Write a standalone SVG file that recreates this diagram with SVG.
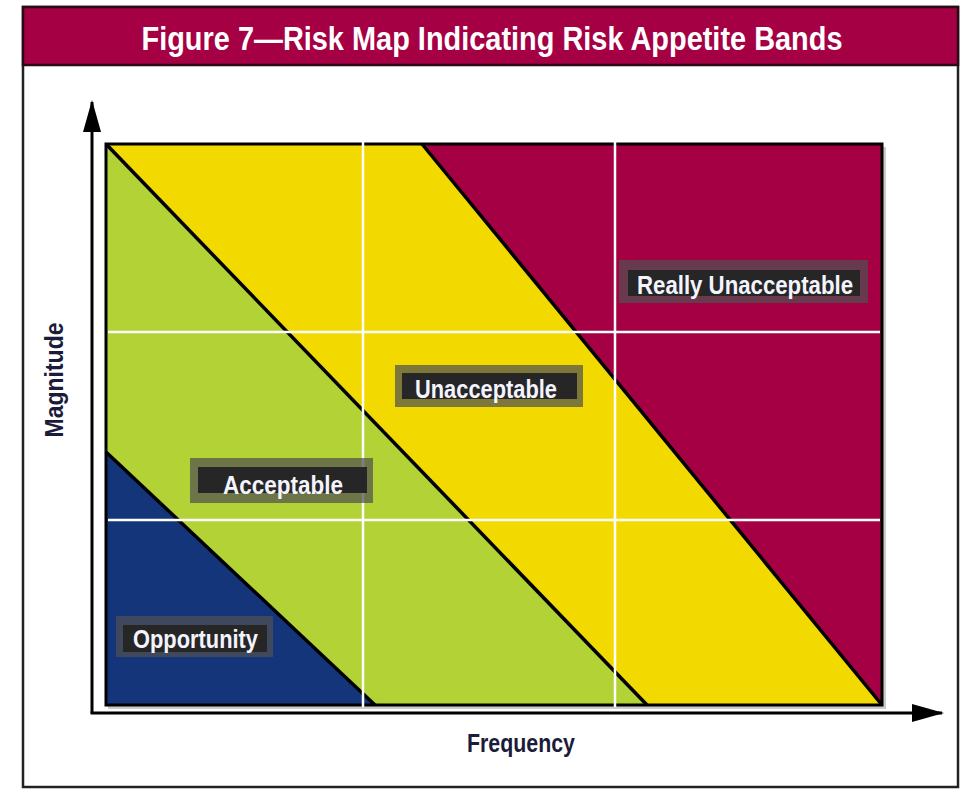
<svg xmlns="http://www.w3.org/2000/svg" width="961" height="790" viewBox="0 0 961 790">
<style>
.frame{fill:#fff;stroke:#222;stroke-width:2.5}
.titlebar{fill:#A50044;stroke:#2a0a14;stroke-width:2.5}
.title{font-family:"Liberation Sans",Arial,sans-serif;font-weight:bold;font-size:33px;fill:#fff}
.crimson{fill:#A50044}
.yellow{fill:#F2DA00}
.green{fill:#B2D235}
.blue{fill:#14357A}
.diag{stroke:#000;stroke-width:3.5;fill:none}
.border{fill:none;stroke:#000;stroke-width:3}
.grid{stroke:#fff;stroke-width:2.5}
.axis{stroke:#000;stroke-width:3;fill:none}
.axlbl{font-family:"Liberation Sans",Arial,sans-serif;font-weight:bold;font-size:25px;fill:#1b1b3a}
.lo{fill:#505050;fill-opacity:0.72}
.li{fill:#262626}
.lt{font-family:"Liberation Sans",Arial,sans-serif;font-weight:bold;font-size:26px;fill:#f4f4ff}
</style>
<defs>
<marker id="arr" viewBox="0 0 32 18" refX="30" refY="9" markerWidth="32" markerHeight="18" markerUnits="userSpaceOnUse" orient="auto">
<path d="M0,0 L32,9 L0,18 Z" fill="#000"/>
</marker>
</defs>
<rect class="frame" x="23" y="7" width="935" height="780"/>
<g id="title">
<rect class="titlebar" x="23" y="7" width="935" height="58"/>
<text class="title" x="492" y="50" text-anchor="middle" textLength="701" lengthAdjust="spacingAndGlyphs">Figure 7—Risk Map Indicating Risk Appetite Bands</text>
</g>
<g id="bands">
<rect x="108" y="147" width="778" height="562" fill="#999" opacity="0.5"/>
<polygon id="band-crimson" class="crimson" points="422,144 882,144 882,705"/>
<polygon id="band-yellow" class="yellow" points="106,144 422,144 882,705 647,705"/>
<polygon id="band-green" class="green" points="106,144 647,705 375,705 106,452"/>
<polygon id="band-blue" class="blue" points="106,452 375,705 106,705"/>
</g>
<g id="connectors">
<line class="diag" x1="106" y1="452" x2="375" y2="705"/>
<line class="diag" x1="106" y1="144" x2="647" y2="705"/>
<line class="diag" x1="422" y1="144" x2="882" y2="705"/>
<rect class="border" x="106" y="144" width="776" height="561"/>
<line class="grid" x1="363" y1="142" x2="363" y2="707"/>
<line class="grid" x1="615" y1="142" x2="615" y2="707"/>
<line class="grid" x1="108" y1="332" x2="880" y2="332"/>
<line class="grid" x1="108" y1="520" x2="880" y2="520"/>
<line class="axis" x1="92" y1="713" x2="92" y2="102" marker-end="url(#arr)"/>
<line class="axis" x1="90.5" y1="713" x2="942" y2="713" marker-end="url(#arr)"/>
</g>
<g id="axis-labels">
<text class="axlbl" x="521" y="752" text-anchor="middle" textLength="108" lengthAdjust="spacingAndGlyphs">Frequency</text>
<text class="axlbl" transform="translate(63,380) rotate(-90)" text-anchor="middle" textLength="115" lengthAdjust="spacingAndGlyphs">Magnitude</text>
</g>
<g id="label-really-unacceptable">
<rect class="lo" x="619" y="260" width="249" height="43"/>
<rect class="li" x="628" y="270" width="232" height="26"/>
<text class="lt" x="637" y="294" textLength="216" lengthAdjust="spacingAndGlyphs">Really Unacceptable</text>
</g>
<g id="label-unacceptable">
<rect class="lo" x="395" y="365" width="188" height="42"/>
<rect class="li" x="402" y="373" width="175" height="26"/>
<text class="lt" x="415" y="398" textLength="142" lengthAdjust="spacingAndGlyphs">Unacceptable</text>
</g>
<g id="label-acceptable">
<rect class="lo" x="190" y="458" width="183" height="45"/>
<rect class="li" x="198" y="467" width="169" height="26"/>
<text class="lt" x="223" y="494" textLength="120" lengthAdjust="spacingAndGlyphs">Acceptable</text>
</g>
<g id="label-opportunity">
<rect class="lo" x="116" y="616" width="157" height="41"/>
<rect class="li" x="123" y="625" width="144" height="27"/>
<text class="lt" x="133" y="648" textLength="125" lengthAdjust="spacingAndGlyphs">Opportunity</text>
</g>
</svg>
